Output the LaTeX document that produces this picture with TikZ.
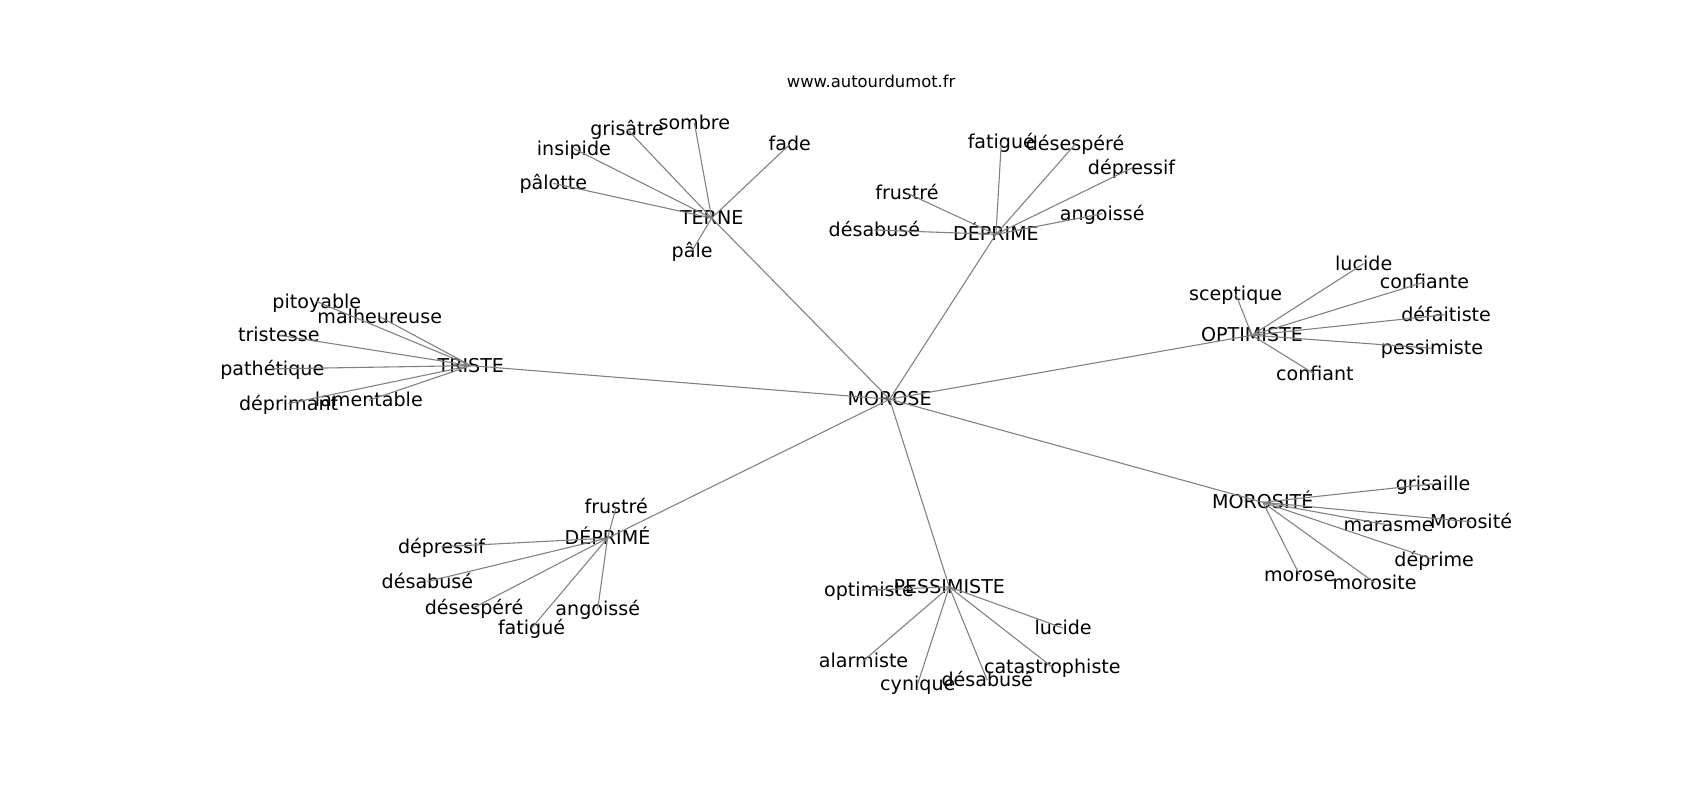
\documentclass[tikz,border=0pt]{standalone}
\usepackage{fontspec}
\setmainfont{DejaVu Sans}
\begin{document}
\begin{tikzpicture}[x=1pt,y=-1pt,
  lbl/.style={font=\fontsize{17.6}{20}\selectfont, inner sep=0pt, text height=16.4pt, text depth=4.2pt, anchor=center},
  ttl/.style={font=\fontsize{15.1}{18}\selectfont, inner sep=0pt, text height=15.5pt, text depth=3.6pt, anchor=center},
  edge/.style={draw=gray, line width=1pt}]
\useasboundingbox (0,0) rectangle (1567,737);
\node[ttl] (title) at (803,75) {www.autourdumot.fr};
% hubs
\node[lbl] (morose) at (820,368) {MOROSE};
\node[lbl] (terne) at (656,201) {TERNE};
\node[lbl] (deprime) at (918,216) {DÉPRIME};
\node[lbl] (triste) at (434,337) {TRISTE};
\node[lbl] (optimiste) at (1154,309) {OPTIMISTE};
\node[lbl] (morosite) at (1164,463) {MOROSITÉ};
\node[lbl] (deprimee) at (560,496) {DÉPRIMÉ};
\node[lbl] (pessimiste) at (875,541) {PESSIMISTE};
% TERNE
\node[lbl] (t1) at (510,169) {pâlotte};
\node[lbl] (t2) at (529,137) {insipide};
\node[lbl] (t3) at (578,119) {grisâtre};
\node[lbl] (t4) at (640,113) {sombre};
\node[lbl] (t5) at (728,133) {fade};
\node[lbl] (t6) at (638,231) {pâle};
% DÉPRIME
\node[lbl] (d1) at (923,131) {fatigué};
\node[lbl] (d2) at (991,133) {désespéré};
\node[lbl] (d3) at (1043,155) {dépressif};
\node[lbl] (d4) at (1016,197) {angoissé};
\node[lbl] (d5) at (836,178) {frustré};
\node[lbl] (d6) at (806,212) {désabusé};
% TRISTE
\node[lbl] (r1) at (292,278) {pitoyable};
\node[lbl] (r2) at (350,292) {malheureuse};
\node[lbl] (r3) at (257,309) {tristesse};
\node[lbl] (r4) at (251,340) {pathétique};
\node[lbl] (r5) at (266,372) {déprimant};
\node[lbl] (r6) at (340,369) {lamentable};
% OPTIMISTE
\node[lbl] (o1) at (1139,271) {sceptique};
\node[lbl] (o2) at (1257,243) {lucide};
\node[lbl] (o3) at (1313,260) {confiante};
\node[lbl] (o4) at (1333,290) {défaitiste};
\node[lbl] (o5) at (1320,321) {pessimiste};
\node[lbl] (o6) at (1212,345) {confiant};
% MOROSITÉ
\node[lbl] (m1) at (1321,446) {grisaille};
\node[lbl] (m2) at (1356,481) {Morosité};
\node[lbl] (m3) at (1280,484) {marasme};
\node[lbl] (m4) at (1322,516) {déprime};
\node[lbl] (m5) at (1267,537) {morosite};
\node[lbl] (m6) at (1198,530) {morose};
% DÉPRIMÉ
\node[lbl] (e1) at (568,467) {frustré};
\node[lbl] (e2) at (407,504) {dépressif};
\node[lbl] (e3) at (394,536) {désabusé};
\node[lbl] (e4) at (437,560) {désespéré};
\node[lbl] (e5) at (490,579) {fatigué};
\node[lbl] (e6) at (551,561) {angoissé};
% PESSIMISTE
\node[lbl] (p1) at (801,544) {optimiste};
\node[lbl] (p2) at (980,579) {lucide};
\node[lbl] (p3) at (970,615) {catastrophiste};
\node[lbl] (p4) at (910,627) {désabusé};
\node[lbl] (p5) at (846,630) {cynique};
\node[lbl] (p6) at (796,609) {alarmiste};
% edges
\foreach \h in {terne,deprime,triste,optimiste,morosite,deprimee,pessimiste}
  \draw[edge] (morose.center) -- (\h.center);
\foreach \n in {t1,t2,t3,t4,t5,t6} \draw[edge] (terne.center) -- (\n.center);
\foreach \n in {d1,d2,d3,d4,d5,d6} \draw[edge] (deprime.center) -- (\n.center);
\foreach \n in {r1,r2,r3,r4,r5,r6} \draw[edge] (triste.center) -- (\n.center);
\foreach \n in {o1,o2,o3,o4,o5,o6} \draw[edge] (optimiste.center) -- (\n.center);
\foreach \n in {m1,m2,m3,m4,m5,m6} \draw[edge] (morosite.center) -- (\n.center);
\foreach \n in {e1,e2,e3,e4,e5,e6} \draw[edge] (deprimee.center) -- (\n.center);
\foreach \n in {p1,p2,p3,p4,p5,p6} \draw[edge] (pessimiste.center) -- (\n.center);
\end{tikzpicture}
\end{document}
